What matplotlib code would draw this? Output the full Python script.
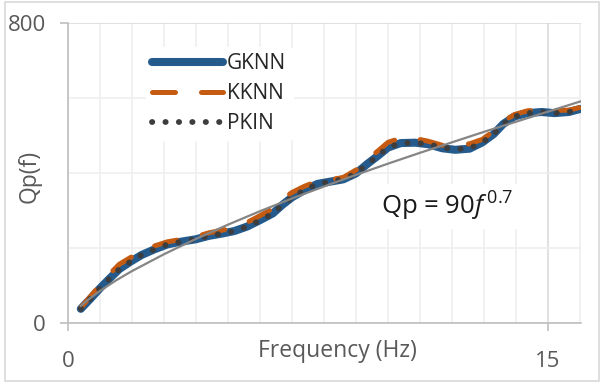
import matplotlib
matplotlib.use("Agg")
import matplotlib.pyplot as plt
from matplotlib.patches import Rectangle
from matplotlib.ticker import MultipleLocator, FixedLocator

plt.rcParams['font.family'] = ['Open Sans', 'DejaVu Sans']
plt.rcParams['mathtext.fontset'] = 'custom'
plt.rcParams['mathtext.rm'] = 'Open Sans'
plt.rcParams['mathtext.it'] = 'Open Sans:italic'

# ---- data ----
freq = [0.4, 0.7, 1.0, 1.3, 1.6, 1.95, 2.3, 2.7, 3.1, 3.5, 4.0, 4.4, 4.8, 5.2,
        5.6, 6.0, 6.4, 6.7, 7.0, 7.4, 7.8, 8.2, 8.6, 9.0, 9.35, 9.7, 10.0, 10.4,
        10.85, 11.25, 11.7, 12.1, 12.55, 12.95, 13.3, 13.6, 13.95, 14.35, 14.8,
        15.2, 15.65, 16.0]
gknn = [37, 64, 92, 118, 143, 163, 181, 196, 209, 216, 223, 232, 238, 245,
        257, 274, 292, 315, 335, 355, 371, 377, 383, 399, 424, 447, 468, 480,
        481, 477, 466, 462, 465, 482, 504, 531, 551, 560, 563, 560, 563, 571]
kknn = [40, 70, 100, 130, 156, 174, 190, 205, 216, 222, 230, 240, 247, 254,
        268, 286, 305, 330, 348, 365, 378, 382, 388, 408, 436, 460, 482, 493,
        492, 485, 474, 474, 478, 490, 512, 538, 556, 566, 570, 567, 568, 575]
pkin = [37, 64, 92, 118, 143, 163, 181, 196, 209, 216, 223, 232, 238, 245,
        257, 273, 292, 315, 335, 355, 371, 377, 383, 399, 424, 447, 468, 480,
        481, 477, 468, 464, 466, 482, 504, 531, 551, 560, 563, 560, 563, 571]
fit_freq = [0.4, 0.7, 1.0, 1.5, 2.0, 3.0, 4.0, 5.0, 6.0, 7.0, 8.0, 9.0, 10.0,
            11.0, 12.0, 13.0, 14.0, 15.0, 16.0]
fit_qp = [45, 66, 85, 113, 138, 183, 224, 262, 298, 332, 364, 395, 425,
          454, 482, 510, 537, 564, 591]

x_major = [0, 15]
y_major = [0, 800]

W, H = 603, 383
fig = plt.figure(figsize=(W / 100, H / 100), dpi=100)
ax = fig.add_axes([68 / W, 1 - 322.7 / H, (581 - 68) / W, (322.7 - 23.3) / H])

ax.plot(freq, gknn, color='#245a8c', lw=5.8, solid_capstyle='round',
        label='GKNN', zorder=3)
ax.plot(freq, kknn, color='#c55a11', lw=3.6, dashes=(4.6, 5.2),
        dash_capstyle='round', label='KKNN', zorder=4)
ax.plot(freq, pkin, color='#3d3d3d', lw=4.2, dashes=(0.05, 2.25),
        dash_capstyle='round', label='PKIN', zorder=5)
ax.plot(fit_freq, fit_qp, color='#858585', lw=1.6, zorder=6)

ax.set_xlim(0, 16.03)
ax.set_ylim(0, 800)
ax.xaxis.set_major_locator(FixedLocator(x_major))
ax.xaxis.set_minor_locator(MultipleLocator(1))
ax.yaxis.set_major_locator(FixedLocator(y_major))
ax.yaxis.set_minor_locator(MultipleLocator(200))
ax.grid(which='major', color='#d9d9d9', lw=1.1)
ax.grid(which='minor', color='#eeeeee', lw=1.1)
ax.set_axisbelow(True)

for s in ['top', 'right']:
    ax.spines[s].set_visible(False)
for s in ['left', 'bottom']:
    ax.spines[s].set_color('#bfbfbf')
    ax.spines[s].set_linewidth(1.2)

ax.tick_params(which='major', length=6, width=1.2, color='#bfbfbf',
               labelcolor='#595959', labelsize=16)
ax.tick_params(axis='x', which='major', pad=14.5)
ax.tick_params(axis='y', which='major', pad=10)
ax.tick_params(which='minor', length=0)

ax.set_xlabel('Frequency (Hz)', fontsize=16.5, color='#595959')
ax.xaxis.set_label_coords(0.525, -0.096)
ax.xaxis.label.set_va('center')
ax.set_ylabel('Qp(f)', fontsize=16.5, color='#595959')
ax.yaxis.set_label_coords(-0.074, 0.487)
ax.yaxis.label.set_va('center')

leg = ax.legend(loc='upper left', bbox_to_anchor=(0.152, 0.922), fontsize=15,
                frameon=True, framealpha=1, edgecolor='white',
                handlelength=3.4, handletextpad=0.2, labelspacing=0.44,
                borderpad=0.3, borderaxespad=0)
for t in leg.get_texts():
    t.set_color('#262626')

ax.text(0.611, 0.36, r'Qp = 90$\mathit{f}^{\,0.7}$', transform=ax.transAxes,
        fontsize=18.5, color='#1a1a1a', va='baseline', ha='left',
        bbox=dict(facecolor='white', edgecolor='none', pad=4), zorder=7)

fig.add_artist(Rectangle((5 / W, 1 - 381 / H), 594 / W, 379 / H,
                         transform=fig.transFigure, fill=False,
                         edgecolor='#d9d9d9', lw=1.2))

fig.savefig('out.png', dpi=100)
